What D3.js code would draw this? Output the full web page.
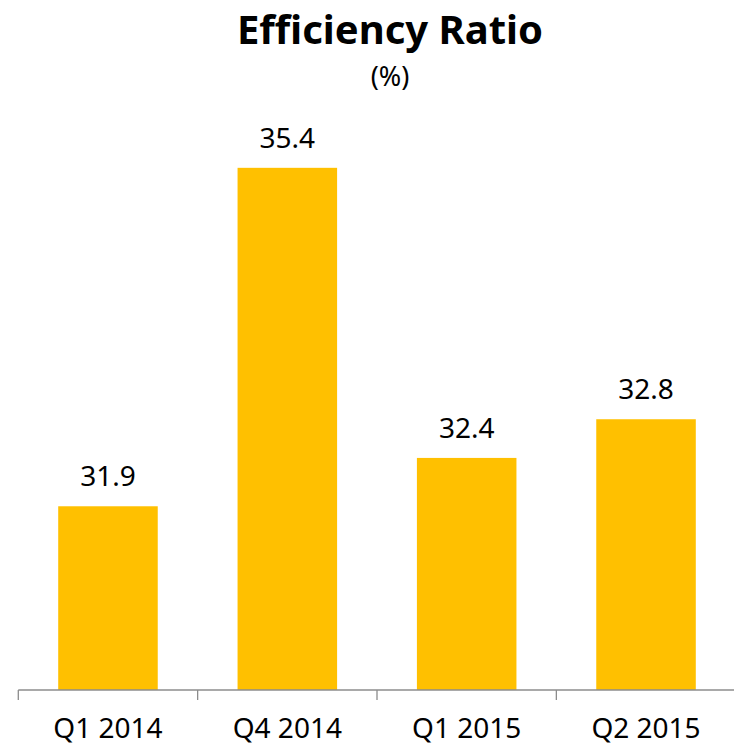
<!DOCTYPE html>
<html>
<head>
<meta charset="utf-8">
<script src="https://cdn.jsdelivr.net/npm/d3@7"></script>
<style>
  body { margin: 0; background: #fff; }
  text { font-family: "Noto Sans", "Open Sans", sans-serif; fill: #000; }
</style>
</head>
<body>
<div id="chart"></div>
<script>
const categories = ["Q1 2014", "Q4 2014", "Q1 2015", "Q2 2015"];
const values = [31.9, 35.4, 32.4, 32.8];
const yDomain = [30, 36];

const W = 734, H = 746;
const svg = d3.select("#chart").append("svg")
  .attr("width", W)
  .attr("height", H);

const x = d3.scaleBand()
  .domain(categories)
  .range([18.3, 735.7])
  .paddingInner(0.445)
  .paddingOuter(0.2225);

const y = d3.scaleLinear()
  .domain(yDomain)
  .range([690, 690 - 6 * 96.7]);

// title
svg.append("text")
  .attr("x", 390)
  .attr("y", 44)
  .attr("text-anchor", "middle")
  .style("font-size", "40px")
  .style("font-weight", "bold")
  .text("Efficiency Ratio");

svg.append("text")
  .attr("x", 390)
  .attr("y", 86)
  .attr("text-anchor", "middle")
  .style("font-size", "27px")
  .text("(%)");

// bars
svg.selectAll("rect.bar")
  .data(values)
  .enter()
  .append("rect")
  .attr("class", "bar")
  .attr("x", (d, i) => x(categories[i]))
  .attr("y", d => y(d))
  .attr("width", x.bandwidth())
  .attr("height", d => y(yDomain[0]) - y(d))
  .attr("fill", "#FFC000");

// value labels
svg.selectAll("text.label")
  .data(values)
  .enter()
  .append("text")
  .attr("class", "label")
  .attr("x", (d, i) => x(categories[i]) + x.bandwidth() / 2)
  .attr("y", d => y(d) - 20)
  .attr("text-anchor", "middle")
  .style("font-size", "28px")
  .text(d => d.toFixed(1));

// x axis: line plus ticks at category boundaries
const axis = svg.append("g");
axis.append("line")
  .attr("x1", 18.3)
  .attr("x2", W)
  .attr("y1", y(yDomain[0]))
  .attr("y2", y(yDomain[0]))
  .attr("stroke", "#8c8c8c")
  .attr("stroke-width", 1.3);

axis.selectAll("line.tick")
  .data(categories)
  .enter()
  .append("line")
  .attr("class", "tick")
  .attr("x1", d => x(d) - x.step() * x.paddingOuter())
  .attr("x2", d => x(d) - x.step() * x.paddingOuter())
  .attr("y1", y(yDomain[0]))
  .attr("y2", y(yDomain[0]) + 10)
  .attr("stroke", "#8c8c8c")
  .attr("stroke-width", 1.3);

axis.selectAll("text.cat")
  .data(categories)
  .enter()
  .append("text")
  .attr("class", "cat")
  .attr("x", d => x(d) + x.bandwidth() / 2)
  .attr("y", 738)
  .attr("text-anchor", "middle")
  .style("font-size", "28px")
  .text(d => d);
</script>
</body>
</html>
